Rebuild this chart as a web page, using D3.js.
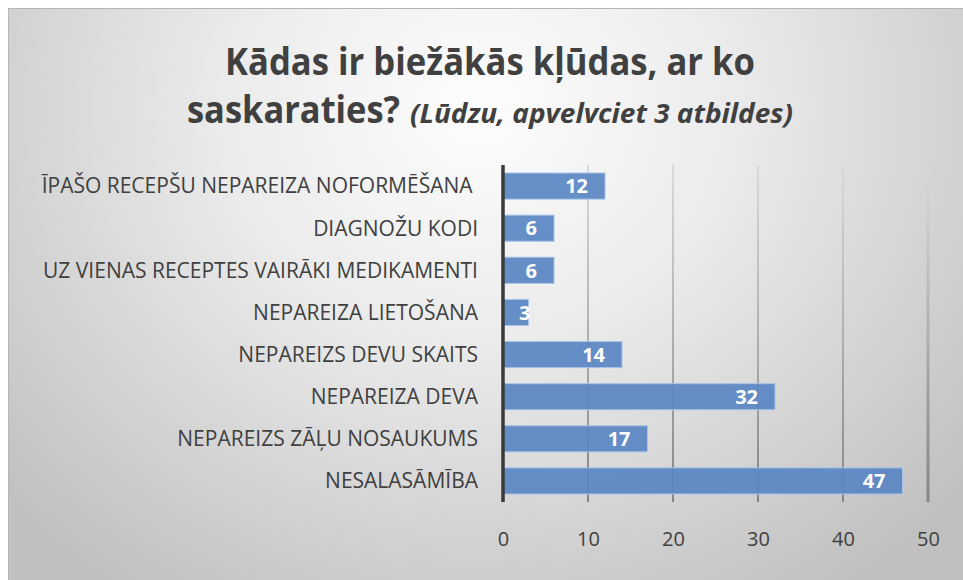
<!DOCTYPE html>
<html><head><meta charset="utf-8">
<script src="https://cdn.jsdelivr.net/npm/d3@7/dist/d3.min.js"></script>
<style>html,body{margin:0;padding:0;background:#fff;}svg{display:block;}</style>
</head><body>
<script>
const categories = ["ĪPAŠO RECEPŠU NEPAREIZA NOFORMĒŠANA ", "DIAGNOŽU KODI", "UZ VIENAS RECEPTES VAIRĀKI MEDIKAMENTI", "NEPAREIZA LIETOŠANA", "NEPAREIZS DEVU SKAITS", "NEPAREIZA DEVA", "NEPAREIZS ZĀĻU NOSAUKUMS", "NESALASĀMĪBA"];
const values = [12, 6, 6, 3, 14, 32, 17, 47];
const xTicks = [0, 10, 20, 30, 40, 50];
const titleLine1 = "Kādas ir biežākās kļūdas, ar ko";
const titleLine2a = "saskaraties?";
const titleLine2b = "(Lūdzu, apvelvciet 3 atbildes)";

const W = 963, H = 580;
const svg = d3.select("body").append("svg").attr("width", W).attr("height", H);
const defs = svg.append("defs");
const bg = defs.append("radialGradient").attr("id", "bg")
  .attr("gradientUnits", "userSpaceOnUse").attr("cx", 480).attr("cy", 110).attr("r", 640)
  .attr("gradientTransform", "translate(480,110) scale(1,0.9) translate(-480,-110)");
bg.append("stop").attr("offset", "0%").attr("stop-color", "#fdfdfd");
bg.append("stop").attr("offset", "40%").attr("stop-color", "#ebebeb");
bg.append("stop").attr("offset", "100%").attr("stop-color", "#c0c0c0");

const gg = defs.append("linearGradient").attr("id", "grid")
  .attr("gradientUnits", "userSpaceOnUse").attr("x1", 0).attr("y1", 165).attr("x2", 0).attr("y2", 502);
gg.append("stop").attr("offset", "0%").attr("stop-color", "#dadada");
gg.append("stop").attr("offset", "100%").attr("stop-color", "#858585");

svg.append("rect").attr("x", 8.5).attr("y", 8.5).attr("width", W).attr("height", H)
  .attr("fill", "url(#bg)").attr("stroke", "#b5b5b5").attr("stroke-width", 1);

const m = {left: 503, right: 928, top: 165, bottom: 502};
const x = d3.scaleLinear().domain([0, 50]).range([m.left, m.right]);
const y = d3.scaleBand().domain(categories).range([m.top, m.bottom]).paddingInner(0.38).paddingOuter(0.19);

// gridlines
svg.append("g").selectAll("line").data(xTicks.filter(d => d > 0)).join("line")
  .attr("x1", d => x(d)).attr("x2", d => x(d)).attr("y1", m.top).attr("y2", m.bottom)
  .attr("stroke", "url(#grid)").attr("stroke-width", d => d === 50 ? 3 : 2);

// bars
svg.append("g").selectAll("rect").data(values).join("rect")
  .attr("x", x(0)).attr("y", (d, i) => y(categories[i]))
  .attr("width", d => x(d) - x(0)).attr("height", y.bandwidth())
  .attr("fill", "#5a86c4").attr("fill-opacity", 0.93)
  .attr("stroke", "#a9c4e8").attr("stroke-width", 1);

// axis line
svg.append("line").attr("x1", x(0)).attr("x2", x(0)).attr("y1", m.top).attr("y2", m.bottom)
  .attr("stroke", "#3a3a3a").attr("stroke-width", 3.5);

// x tick labels
const xAxis = svg.append("g").attr("transform", `translate(0,${m.bottom})`)
  .call(d3.axisBottom(x).tickValues(xTicks).tickSize(0).tickPadding(30));
xAxis.select(".domain").remove();
xAxis.selectAll("text").attr("font-family", "Open Sans").attr("font-size", 20).attr("fill", "#404040");

// category labels
const cl = svg.append("g").selectAll("text").data(categories).join("text")
  .attr("x", 478).attr("y", d => y(d) + y.bandwidth() / 2)
  .attr("dy", "0.35em").attr("text-anchor", "end")
  .attr("font-family", "Open Sans").attr("font-size", 21).attr("fill", "#404040")
  .attr("xml:space", "preserve")
  .text(d => d);
cl.each(function () {
  const len = this.getComputedTextLength();
  d3.select(this).attr("textLength", len * 1.0).attr("lengthAdjust", "spacingAndGlyphs");
});

// data labels
const dl = svg.append("g").selectAll("text").data(values).join("text")
  .attr("y", (d, i) => y(categories[i]) + y.bandwidth() / 2)
  .attr("dy", "0.36em").attr("text-anchor", "end")
  .attr("font-family", "Open Sans").attr("font-size", 20).attr("font-weight", "bold")
  .attr("fill", "#ffffff").text(d => d);
dl.each(function (d) {
  const w = this.getComputedTextLength();
  const end = Math.max(x(d) - 17, x(0) + 16 + w);
  d3.select(this).attr("x", end);
});

// title
function fitText(sel, target) {
  sel.attr("textLength", target).attr("lengthAdjust", "spacingAndGlyphs");
}
svg.append("text").attr("x", 490).attr("y", 75).attr("text-anchor", "middle")
  .attr("font-family", "Open Sans").attr("font-weight", "bold").attr("font-size", 38)
  .attr("fill", "#404040").text(titleLine1).call(fitText, 530);
svg.append("text").attr("x", 187).attr("y", 123).attr("text-anchor", "start")
  .attr("font-family", "Open Sans").attr("font-weight", "bold").attr("font-size", 38)
  .attr("fill", "#404040").text(titleLine2a).call(fitText, 213);
svg.append("text").attr("x", 410).attr("y", 123).attr("text-anchor", "start")
  .attr("font-family", "Open Sans").attr("font-weight", "bold").attr("font-style", "italic").attr("font-size", 26)
  .attr("fill", "#404040").text(titleLine2b).call(fitText, 383);
</script>
</body></html>
